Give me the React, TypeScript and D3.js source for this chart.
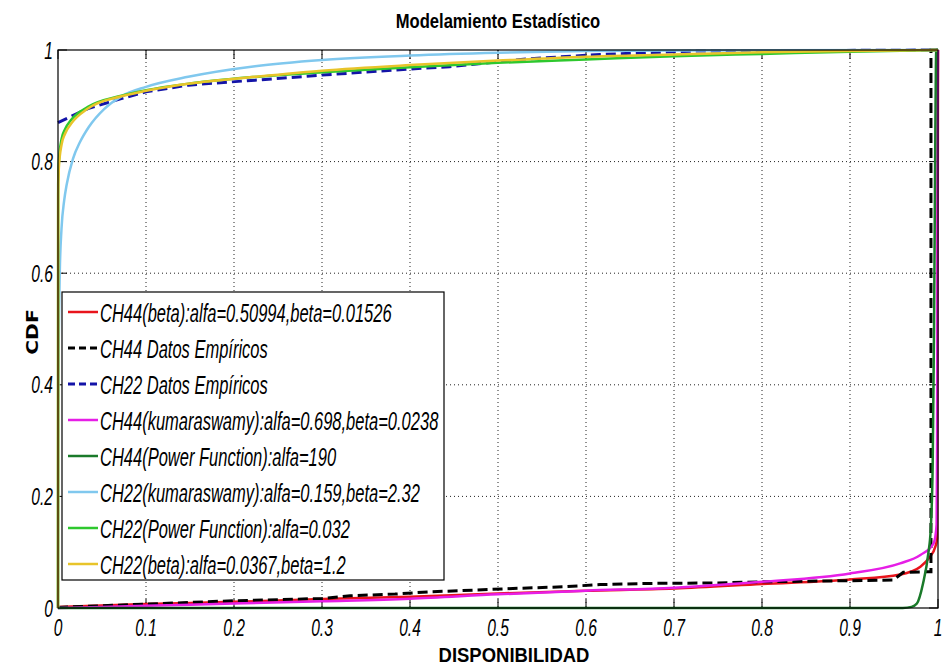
import React from "react";
import * as d3 from "d3";

type P = [number, number];

const xTicks = [0, 0.1, 0.2, 0.3, 0.4, 0.5, 0.6, 0.7, 0.8, 0.9, 1];
const yTicks = [0, 0.2, 0.4, 0.6, 0.8, 1];
const xTickLabels = ["0", "0.1", "0.2", "0.3", "0.4", "0.5", "0.6", "0.7", "0.8", "0.9", "1"];
const yTickLabels = ["0", "0.2", "0.4", "0.6", "0.8", "1"];

const ch44Beta: P[] = [[0, 0.002], [0.1, 0.007], [0.2, 0.011], [0.3, 0.016], [0.4, 0.02], [0.5, 0.026], [0.6, 0.031], [0.7, 0.035], [0.8, 0.043], [0.9, 0.051], [0.957, 0.06], [0.98, 0.074], [0.99, 0.09], [0.997, 0.11], [0.999, 0.125], [0.9995, 0.5], [1, 1]];
const ch44Emp: P[] = [[0, 0.001], [0.1, 0.007], [0.2, 0.013], [0.3, 0.017], [0.332, 0.022], [0.383, 0.025], [0.423, 0.029], [0.472, 0.032], [0.517, 0.035], [0.574, 0.038], [0.616, 0.042], [0.669, 0.044], [0.75, 0.045], [0.8, 0.047], [0.9, 0.049], [0.949, 0.05], [0.9606, 0.064], [0.992, 0.065], [0.992, 1], [1, 1]];
const ch22Emp: P[] = [[0, 0.87], [0.034, 0.895], [0.072, 0.913], [0.1, 0.925], [0.148, 0.937], [0.224, 0.946], [0.3, 0.955], [0.4, 0.966], [0.445, 0.97], [0.533, 0.984], [0.616, 0.992], [0.72, 0.998], [0.85, 0.999], [1, 1]];
const ch44Kuma: P[] = [[0, 0], [0.1, 0.004], [0.2, 0.008], [0.3, 0.012], [0.4, 0.0165], [0.5, 0.0245], [0.6, 0.031], [0.7, 0.0365], [0.8, 0.047], [0.9, 0.062], [0.957, 0.08], [0.98, 0.095], [0.995, 0.116], [0.9985, 0.15], [0.999, 0.3], [0.9993, 0.6], [0.9996, 0.9], [1, 1]];
const ch44Power: P[] = [[0, 0], [0.96, 0], [0.97, 0.002], [0.976, 0.008], [0.983, 0.044], [0.989, 0.098], [0.9917, 0.14], [0.994, 0.26], [0.9955, 0.5], [0.997, 0.857], [0.998, 1], [1, 1]];
const ch22Kuma: P[] = [[0, 0], [0.0003, 0.35], [0.001, 0.5], [0.002, 0.6], [0.004, 0.68], [0.007, 0.73], [0.01, 0.76], [0.017, 0.805], [0.025, 0.835], [0.035, 0.862], [0.053, 0.895], [0.072, 0.917], [0.1, 0.934], [0.148, 0.952], [0.224, 0.971], [0.3, 0.982], [0.4, 0.99], [0.5, 0.995], [0.6, 0.998], [0.7, 0.999], [1, 1]];
const ch22Power: P[] = [[0, 0], [0.0002, 0.76], [0.001, 0.8], [0.004, 0.84], [0.008, 0.858], [0.015, 0.875], [0.034, 0.898], [0.072, 0.918], [0.1, 0.928], [0.15, 0.94], [0.218, 0.951], [0.3, 0.96], [0.4, 0.969], [0.5, 0.977], [0.6, 0.983], [0.7, 0.989], [0.8, 0.993], [0.9, 0.997], [1, 1]];
const ch22Beta: P[] = [[0, 0], [0.0002, 0.74], [0.001, 0.79], [0.004, 0.83], [0.008, 0.85], [0.015, 0.868], [0.034, 0.895], [0.072, 0.917], [0.1, 0.927], [0.15, 0.94], [0.224, 0.952], [0.3, 0.963], [0.4, 0.973], [0.5, 0.981], [0.6, 0.988], [0.7, 0.992], [0.8, 0.996], [0.9, 0.998], [1, 1]];

const seriesNames = [
  "CH44(beta):alfa=0.50994,beta=0.01526",
  "CH44 Datos Empíricos",
  "CH22 Datos Empíricos",
  "CH44(kumaraswamy):alfa=0.698,beta=0.0238",
  "CH44(Power Function):alfa=190",
  "CH22(kumaraswamy):alfa=0.159,beta=2.32",
  "CH22(Power Function):alfa=0.032",
  "CH22(beta):alfa=0.0367,beta=1.2",
];
const seriesData: P[][] = [ch44Beta, ch44Emp, ch22Emp, ch44Kuma, ch44Power, ch22Kuma, ch22Power, ch22Beta];
const seriesColors = ["#e8141c", "#000000", "#1414a8", "#e61ee6", "#1a7a2a", "#80c8ee", "#2ec82e", "#e8c42a"];
const seriesDashed = [false, true, true, false, false, false, false, false];
const seriesSmooth = [true, false, false, true, true, true, true, true];

const W = 944, H = 665;
const L = 58, R = 938, T = 50, B = 608;
const SANS = "'Liberation Sans', Arial, sans-serif";

function SText(props: { x: number; y: number; sx: number; size: number; anchor?: string; italic?: boolean; bold?: boolean; children: React.ReactNode; family?: string }) {
  const { x, y, sx, size, anchor, italic, bold, children, family } = props;
  return (
    <text
      transform={`translate(${x},${y}) scale(${sx},1)`}
      textAnchor={anchor || "start"}
      fontFamily={family || SANS}
      fontStyle={italic ? "italic" : "normal"}
      fontWeight={bold ? "bold" : "normal"}
      fontSize={size}
      fill="#000"
    >
      {children}
    </text>
  );
}

export default function App() {
  const x = d3.scaleLinear().domain([0, 1]).range([L, R]);
  const y = d3.scaleLinear().domain([0, 1]).range([B, T]);
  const lineSmooth = d3.line<P>().x(d => x(d[0])).y(d => y(d[1])).curve(d3.curveMonotoneX);
  const lineLin = d3.line<P>().x(d => x(d[0])).y(d => y(d[1]));

  const legX = 62, legY = 292, legW = 382, legH = 288;
  const rowY0 = 312, rowStep = 36;

  return (
    <div style={{ position: "absolute", left: 0, top: 0 }}>
      <svg width={W} height={H} style={{ display: "block", background: "#fff" }}>
        <rect x={0} y={0} width={W} height={H} fill="#fff" />
        {/* grid */}
        {xTicks.slice(1, -1).map((t, i) => (
          <line key={"gx" + i} x1={x(t)} x2={x(t)} y1={T} y2={B} stroke="#222" strokeWidth={1} strokeDasharray="1,3" />
        ))}
        {yTicks.slice(1, -1).map((t, i) => (
          <line key={"gy" + i} x1={L} x2={R} y1={y(t)} y2={y(t)} stroke="#222" strokeWidth={1} strokeDasharray="1,3" />
        ))}
        {/* ticks */}
        {xTicks.map((t, i) => (
          <g key={"tx" + i}>
            <line x1={x(t)} x2={x(t)} y1={B} y2={B - 9} stroke="#000" />
            <line x1={x(t)} x2={x(t)} y1={T} y2={T + 9} stroke="#000" />
          </g>
        ))}
        {yTicks.map((t, i) => (
          <g key={"ty" + i}>
            <line x1={L} x2={L + 9} y1={y(t)} y2={y(t)} stroke="#000" />
            <line x1={R} x2={R - 9} y1={y(t)} y2={y(t)} stroke="#000" />
          </g>
        ))}
        {/* series */}
        {seriesData.map((d, i) => (
          <path
            key={"s" + i}
            d={(seriesSmooth[i] ? lineSmooth : lineLin)(d) || ""}
            fill="none"
            stroke={seriesColors[i]}
            strokeWidth={seriesDashed[i] ? 3 : 2.5}
            strokeDasharray={seriesDashed[i] ? "10,5" : undefined}
          />
        ))}
        {/* axes box */}
        <rect x={L} y={T} width={R - L} height={B - T} fill="none" stroke="#000" strokeWidth={1.2} />
        {/* tick labels */}
        {xTicks.map((t, i) => (
          <SText key={"xl" + i} x={x(t)} y={636} sx={0.65} size={24} anchor="middle" italic>
            {xTickLabels[i]}
          </SText>
        ))}
        {yTicks.map((t, i) => (
          <SText key={"yl" + i} x={53} y={y(t) + 8.5} sx={0.65} size={24} anchor="end" italic>
            {yTickLabels[i]}
          </SText>
        ))}
        {/* titles */}
        <SText x={498} y={28} sx={0.79} size={21} anchor="middle" bold>
          Modelamiento Estadístico
        </SText>
        <SText x={514} y={662} sx={0.88} size={21} anchor="middle" bold>
          DISPONIBILIDAD
        </SText>
        <text transform="translate(38,332) rotate(-90) scale(1.35,1)" textAnchor="middle" fontFamily="'DejaVu Sans', sans-serif" fontWeight="bold" fontSize={15} fill="#000">
          CDF
        </text>
        {/* legend */}
        <rect x={legX} y={legY} width={legW} height={legH} fill="#fff" stroke="#000" strokeWidth={1.2} />
        {seriesNames.map((n, i) => {
          const cy = rowY0 + i * rowStep;
          return (
            <g key={"lg" + i}>
              <line x1={68} x2={98} y1={cy} y2={cy} stroke={seriesColors[i]} strokeWidth={seriesDashed[i] ? 3 : 2.5} strokeDasharray={seriesDashed[i] ? "7,4" : undefined} />
              <SText x={100} y={cy + 10} sx={0.66} size={25} italic>
                {n}
              </SText>
            </g>
          );
        })}
      </svg>
    </div>
  );
}
